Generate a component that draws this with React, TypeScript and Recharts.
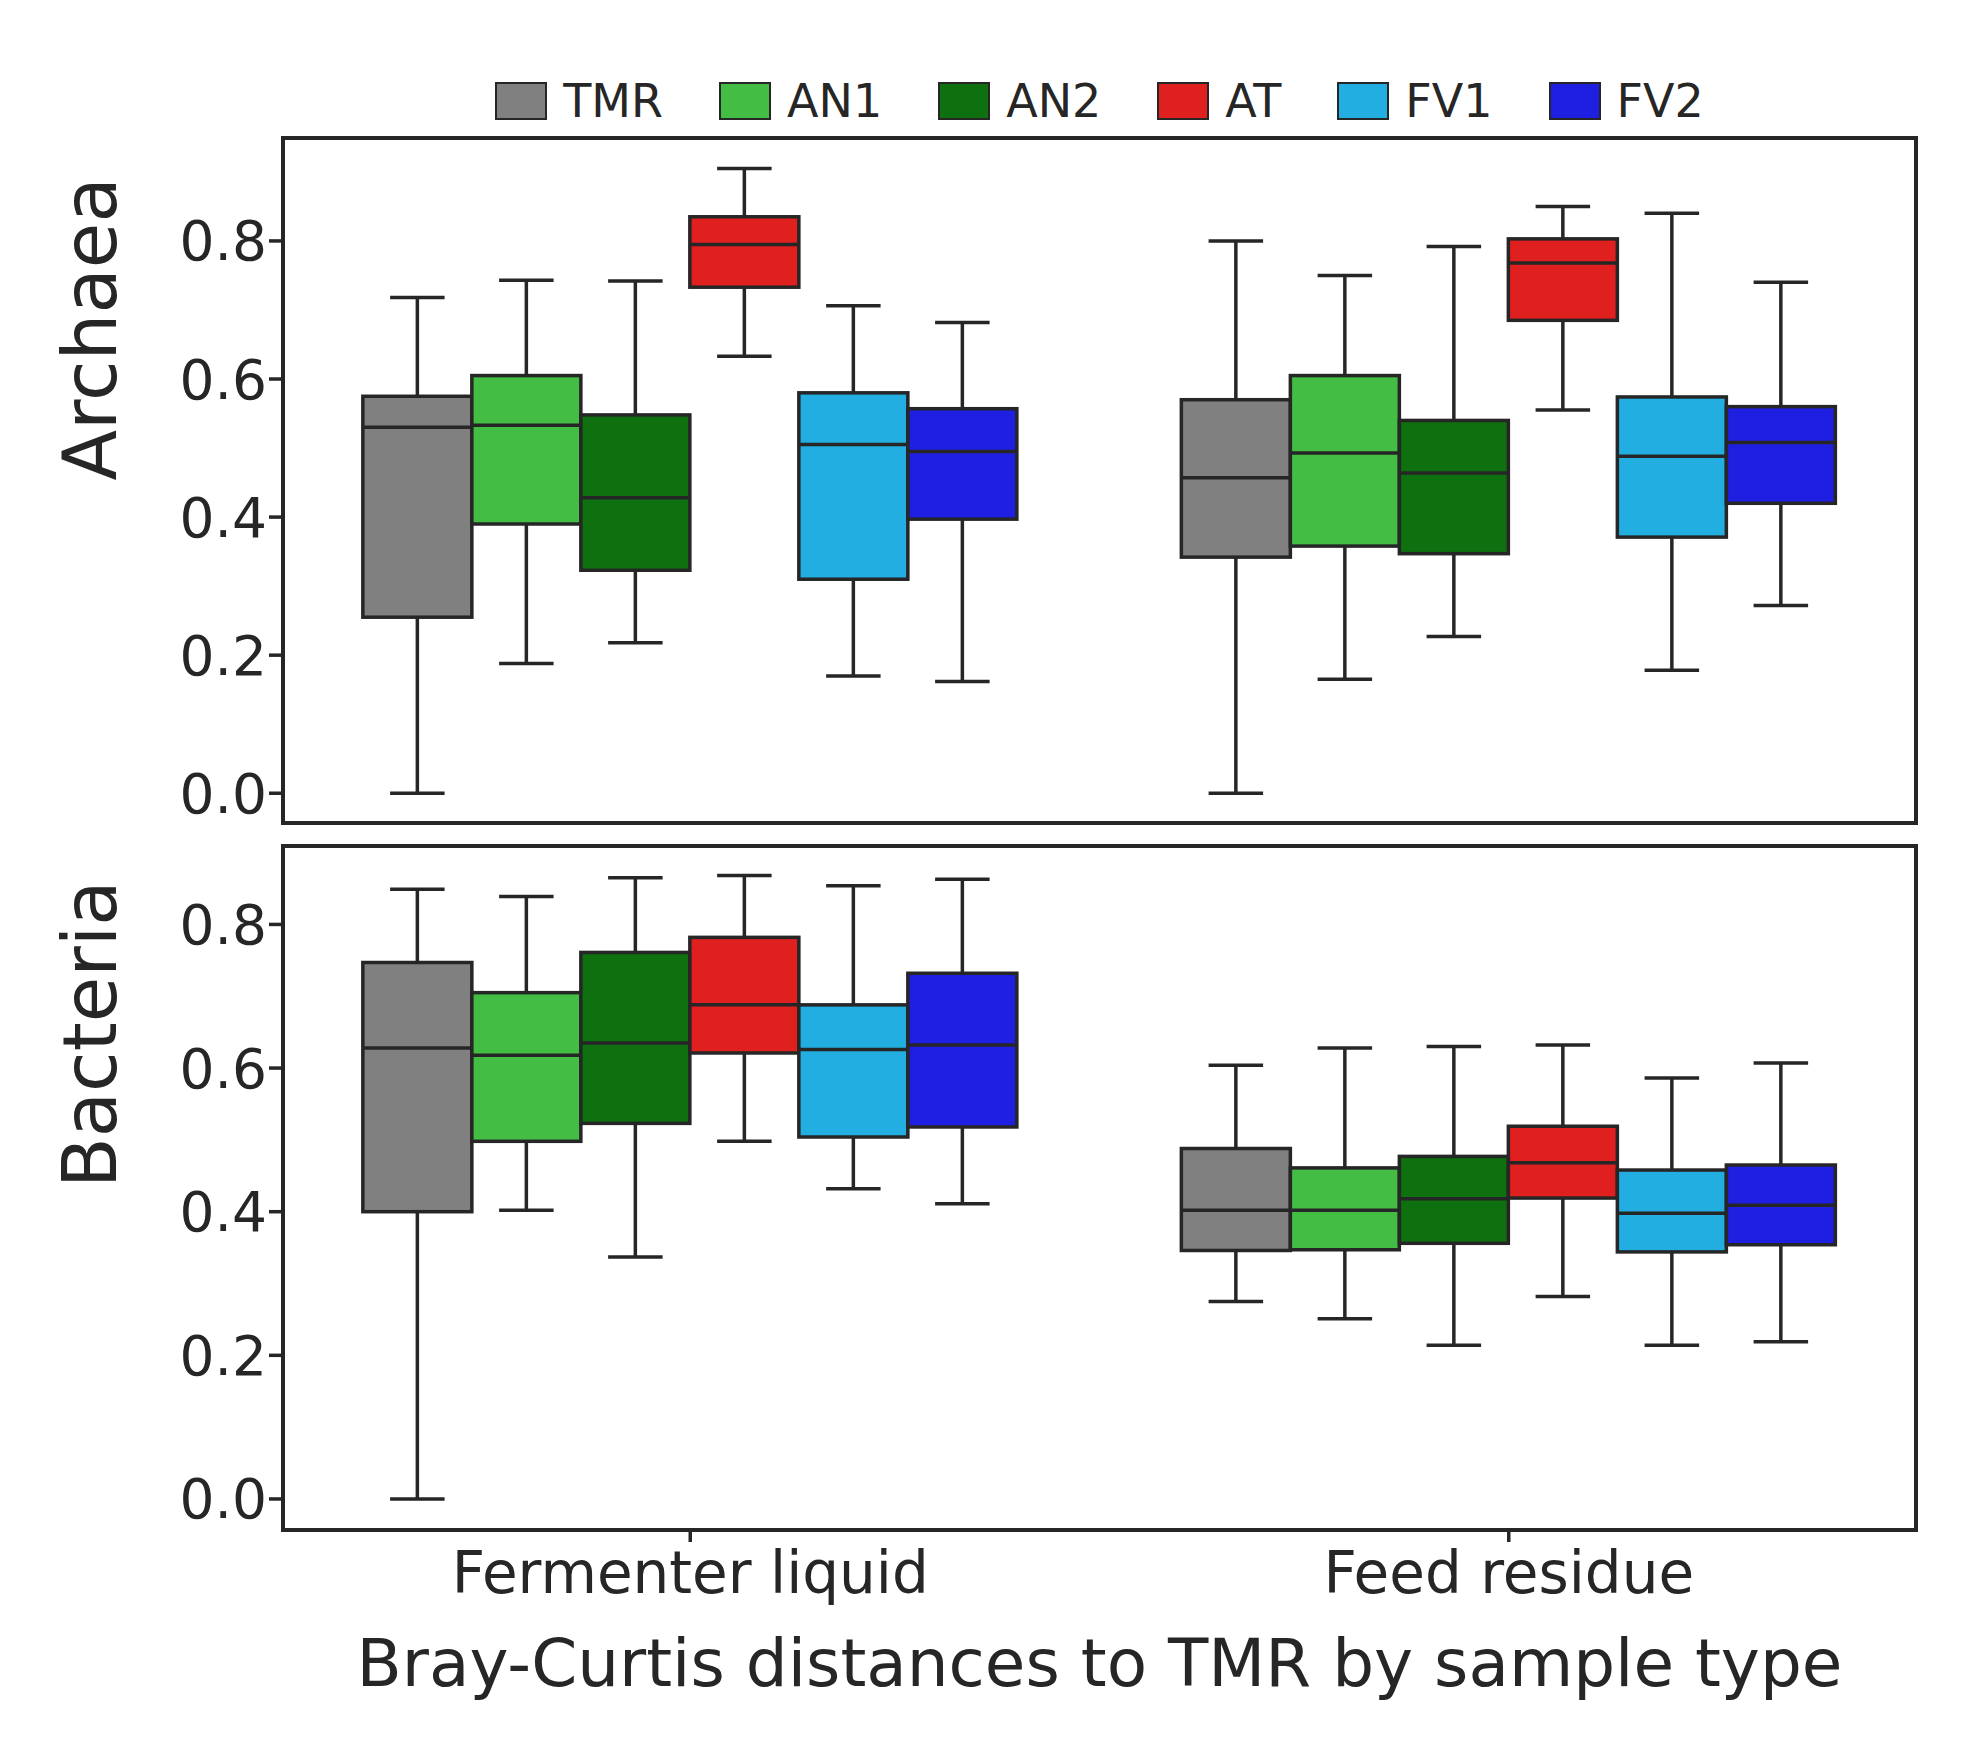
import { ComposedChart, Bar, XAxis, YAxis } from 'recharts';

const categories = ['Fermenter liquid', 'Feed residue'];
const seriesNames = ['TMR', 'AN1', 'AN2', 'AT', 'FV1', 'FV2'];
const seriesColors = ['#808080', '#43bd43', '#0e700e', '#e01f1f', '#22aee1', '#1f1fe2'];
const yTicks = [0, 0.2, 0.4, 0.6, 0.8];

// [min, q1, median, q3, max] per category, per series
const archaeaTMR = [[0, 0.255, 0.53, 0.575, 0.718], [0, 0.342, 0.457, 0.57, 0.8]];
const archaeaAN1 = [[0.188, 0.39, 0.533, 0.605, 0.743], [0.165, 0.358, 0.493, 0.605, 0.75]];
const archaeaAN2 = [[0.218, 0.323, 0.428, 0.548, 0.742], [0.227, 0.347, 0.464, 0.54, 0.792]];
const archaeaAT = [[0.633, 0.733, 0.795, 0.835, 0.905], [0.555, 0.685, 0.768, 0.803, 0.85]];
const archaeaFV1 = [[0.17, 0.31, 0.505, 0.58, 0.706], [0.178, 0.371, 0.488, 0.574, 0.84]];
const archaeaFV2 = [[0.162, 0.397, 0.495, 0.557, 0.682], [0.272, 0.42, 0.508, 0.56, 0.74]];

const bacteriaTMR = [[0, 0.4, 0.628, 0.747, 0.849], [0.275, 0.346, 0.402, 0.488, 0.604]];
const bacteriaAN1 = [[0.402, 0.498, 0.618, 0.705, 0.839], [0.251, 0.347, 0.402, 0.461, 0.628]];
const bacteriaAN2 = [[0.337, 0.523, 0.635, 0.761, 0.865], [0.214, 0.356, 0.418, 0.477, 0.63]];
const bacteriaAT = [[0.498, 0.621, 0.688, 0.782, 0.868], [0.282, 0.419, 0.468, 0.519, 0.632]];
const bacteriaFV1 = [[0.432, 0.504, 0.626, 0.688, 0.854], [0.214, 0.344, 0.398, 0.458, 0.586]];
const bacteriaFV2 = [[0.411, 0.518, 0.632, 0.732, 0.863], [0.219, 0.354, 0.409, 0.465, 0.607]];

const archaeaSeries = [archaeaTMR, archaeaAN1, archaeaAN2, archaeaAT, archaeaFV1, archaeaFV2];
const bacteriaSeries = [bacteriaTMR, bacteriaAN1, bacteriaAN2, bacteriaAT, bacteriaFV1, bacteriaFV2];

const INK = '#262626';
const FONT = '"DejaVu Sans", sans-serif';
const LW = 3.5;

function buildRows(series: number[][][]) {
  return categories.map((c, i) => {
    const row: any = { name: c };
    seriesNames.forEach((s, k) => { row[s] = series[k][i]; });
    return row;
  });
}

function makeBoxShape(key: string, color: string) {
  return (props: any) => {
    const { x, y, width, height, payload } = props;
    const [mn, q1, med, q3, mx] = payload[key];
    const per = height / (mx - mn);
    const py = (v: number) => y + (mx - v) * per;
    const cx = x + width / 2;
    const cap = width / 4;
    return (
      <g>
        <line x1={cx} x2={cx} y1={py(mx)} y2={py(q3)} stroke={INK} strokeWidth={LW} />
        <line x1={cx} x2={cx} y1={py(q1)} y2={py(mn)} stroke={INK} strokeWidth={LW} />
        <line x1={cx - cap} x2={cx + cap} y1={py(mx)} y2={py(mx)} stroke={INK} strokeWidth={LW} />
        <line x1={cx - cap} x2={cx + cap} y1={py(mn)} y2={py(mn)} stroke={INK} strokeWidth={LW} />
        <rect x={x} y={py(q3)} width={width} height={py(q1) - py(q3)} fill={color} stroke={INK} strokeWidth={LW} />
        <line x1={x} x2={x + width} y1={py(med)} y2={py(med)} stroke={INK} strokeWidth={LW} />
      </g>
    );
  };
}

function Panel({ rows, label, height, top, marginTop, domain, showTicks }: any) {
  return (
    <div style={{ position: 'absolute', left: 0, top }}>
      <ComposedChart
        width={1967}
        height={height}
        data={rows}
        margin={{ top: marginTop, right: 49, left: 0, bottom: 0 }}
        barCategoryGap="10%"
        barGap={0}
      >
        <XAxis
          dataKey="name"
          height={showTicks ? 226 : 20}
          axisLine={false}
          tickLine={{ stroke: INK, strokeWidth: LW }}
          tickSize={10}
          tick={showTicks ? { fontSize: 58, fill: INK, fontFamily: FONT, dy: 8 } : false}
          label={showTicks ? { value: 'Bray-Curtis distances to TMR by sample type', position: 'insideBottom', offset: 72, fontSize: 66, fill: INK, fontFamily: FONT } : undefined}
        />
        <YAxis
          type="number"
          domain={domain}
          ticks={yTicks}
          width={281}
          axisLine={false}
          tickLine={{ stroke: INK, strokeWidth: LW }}
          tickSize={12}
          tickFormatter={(v: number) => v.toFixed(1)}
          tick={{ fontSize: 55, fill: INK, fontFamily: FONT }}
          label={{ value: label, angle: -90, position: 'insideLeft', offset: 90, fontSize: 74, fill: INK, fontFamily: FONT }}
        />
        {seriesNames.map((s, k) => (
          <Bar
            key={s}
            dataKey={(r: any) => [r[s][0], r[s][4]]}
            shape={makeBoxShape(s, seriesColors[k])}
            isAnimationActive={false}
          />
        ))}
      </ComposedChart>
    </div>
  );
}

export default function App() {
  return (
    <div style={{ position: 'absolute', left: 0, top: 0, width: 1967, height: 1758, background: '#fff', fontFamily: FONT }}>
      <div style={{ position: 'absolute', left: 281, width: 1637, top: 74, display: 'flex', justifyContent: 'center', gap: 56 }}>
        {seriesNames.map((s, k) => (
          <div key={s} style={{ display: 'flex', alignItems: 'center', gap: 16, fontSize: 46, color: INK }}>
            <span style={{ width: 52, height: 38, background: seriesColors[k], border: `2.5px solid ${INK}`, boxSizing: 'border-box' }} />
            {s}
          </div>
        ))}
      </div>
      <Panel rows={buildRows(archaeaSeries)} label="Archaea" height={845} top={0} marginTop={136} domain={[-0.046, 0.952]} showTicks={false} />
      <Panel rows={buildRows(bacteriaSeries)} label="Bacteria" height={914} top={844} marginTop={0} domain={[-0.046, 0.912]} showTicks={true} />
      <div style={{ position: 'absolute', left: 281, top: 136, width: 1637, height: 689, border: `4px solid ${INK}`, boxSizing: 'border-box', pointerEvents: 'none' }} />
      <div style={{ position: 'absolute', left: 281, top: 844, width: 1637, height: 688, border: `4px solid ${INK}`, boxSizing: 'border-box', pointerEvents: 'none' }} />
    </div>
  );
}
